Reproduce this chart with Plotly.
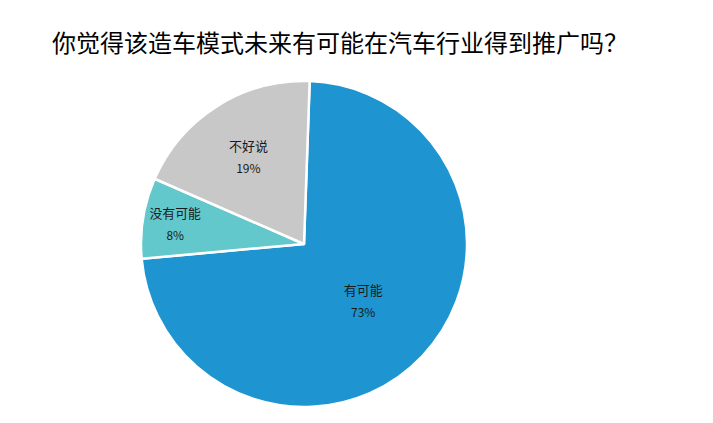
import plotly.graph_objects as go

# 调查结果
labels = ["有可能", "没有可能", "不好说"]
values = [73, 8, 19]
colors = ["#1E95D0", "#62C8CC", "#C8C8C8"]

W, H = 713, 423
cx, cy, r = 296, 236, 163

fig = go.Figure()
fig.add_trace(go.Pie(
    labels=labels, values=values, sort=False, direction="clockwise", rotation=2,
    marker=dict(colors=colors, line=dict(color="white", width=2.5)),
    texttemplate="<span style='font-size:13px'>%{label}</span><br>"
                 "<span style='font-size:12px'>%{percent:.0%}</span>",
    textposition="inside",
    insidetextorientation="horizontal",
    textfont=dict(size=17, color="#1a1a1a", family="Noto Sans CJK SC"),
    domain=dict(x=[(cx - r) / W, (cx + r) / W], y=[1 - (cy + r) / H, 1 - (cy - r) / H]),
    showlegend=False, hoverinfo="label+percent",
))

fig.update_layout(
    width=W, height=H,
    margin=dict(l=0, r=0, t=0, b=0),
    paper_bgcolor="white",
    font=dict(family="Noto Sans CJK SC"),
    title=dict(text="你觉得该造车模式未来有可能在汽车行业得到推广吗？",
               x=44 / W, xanchor="left", y=1 - 36 / H, yanchor="middle",
               font=dict(size=24, color="black")),
)

fig.write_html("out.html")
